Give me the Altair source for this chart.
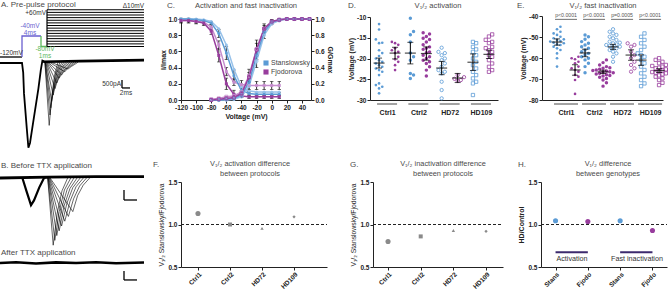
import altair as alt
import numpy as np
import pandas as pd

FONT = "Liberation Sans, DejaVu Sans, Arial, sans-serif"
BLUE = "#5b9bd5"
BLUE_L = "#98c2ea"
PURPLE = "#983d9d"
PURPLE_L = "#c58dcd"
PRE_C = "#6a5fd0"
GAP_C = "#5cb85c"
BAR_H = "#3c2a6e"
GREY = "#8a8a8a"
INK = "#222222"
TXT = "#4a4a4a"

SRC = ["Stanslowsky", "Fjodorova"]
CATS = ["Ctrl1", "Ctrl2", "HD72", "HD109"]

# ---------------- Panel A: traces (ms, nA) ----------------
A_first_t = [0, 5.5, 5.8, 6.0, 6.7, 7.1, 7.5, 8.3, 9.6, 10.2, 10.6, 11.0]
A_first_i = [0, 0, -0.6, -1.9, -4.1, -5.3, -5.0, -3.7, -1.6, -0.45, 0.15, 0.1]
A_base_t = [10.8, 20, 36]
A_base_i = [0.08, 0.12, 0.18]
A_fam_t = [
    [11.2, 12.3, 12.9, 13.6, 14.5], [11.2, 12.5, 13.1, 13.9, 15.0], [11.3, 12.7, 13.4, 14.2, 15.5],
    [11.3, 12.9, 13.7, 14.6, 16.0], [11.4, 13.3, 14.1, 15.0, 16.5], [11.5, 13.75, 14.6, 15.5, 17.0],
    [11.6, 14.2, 15.1, 16.0, 17.5], [11.7, 14.8, 15.7, 16.6, 18.0], [11.8, 15.4, 16.3, 17.2, 18.5],
    [12.0, 16.2, 17.0, 17.9, 19.0], [12.2, 17.0, 17.8, 18.6, 19.5],
]
A_fam_i = [
    [0.1, -3.9, -2.2, -0.8, 0.05], [0.1, -3.25, -1.9, -0.7, 0.05], [0.1, -2.8, -1.6, -0.6, 0.05],
    [0.1, -2.4, -1.35, -0.5, 0.05], [0.1, -2.0, -1.1, -0.45, 0.05], [0.1, -1.6, -0.9, -0.35, 0.05],
    [0.1, -1.25, -0.7, -0.3, 0.05], [0.1, -0.95, -0.55, -0.25, 0.05], [0.1, -0.75, -0.42, -0.2, 0.05],
    [0.1, -0.55, -0.3, -0.15, 0.05], [0.1, -0.38, -0.22, -0.1, 0.05],
]
# protocol (ms, mV)
P_hold_t = [0, 5.5]
P_hold_v = [-120, -120]
P_pre_t = [5.5, 5.5, 10.25]
P_pre_v = [-120, -40, -40]
P_gap_t = [10.25, 10.25, 11.75]
P_gap_v = [-40, -80, -80]
P_steps = [-80, -70, -60, -50, -40, -30, -20, -10, 0, 10, 20, 30, 40, 50, 60]

# ---------------- Panel B ----------------
B_first_t = [0, 5.6, 6.6, 7.75, 8.5, 9.8, 11.0, 11.9]
B_first_i = [0, 0, -0.8, -1.7, -1.4, -0.6, 0.0, 0.05]
B_base_t = [0, 11.9, 24, 36]
B_base_i = [0, 0.05, 0.08, 0.08]
B_fam_t = [
    [11.9, 13.3, 14.3, 15.5, 17.0], [11.9, 13.7, 14.8, 16.1, 17.8], [12.0, 14.2, 15.4, 16.8, 18.6],
    [12.0, 14.8, 16.0, 17.5, 19.4], [12.1, 15.4, 16.7, 18.2, 20.2], [12.2, 16.2, 17.5, 19.0, 21.0],
    [12.3, 17.1, 18.4, 19.9, 21.8], [12.4, 18.2, 19.4, 20.8, 22.6],
]
B_fam_i = [
    [0.05, -4.2, -2.2, -0.8, 0.05], [0.05, -3.9, -2.1, -0.75, 0.05], [0.05, -3.6, -1.9, -0.7, 0.05],
    [0.05, -3.3, -1.75, -0.65, 0.05], [0.05, -3.0, -1.6, -0.6, 0.05], [0.05, -2.7, -1.45, -0.55, 0.05],
    [0.05, -2.4, -1.3, -0.5, 0.05], [0.05, -2.1, -1.1, -0.45, 0.05],
]
B_ttx_t = [0, 4, 9, 14, 19, 24, 29, 36]
B_ttx_i = [0, 0.05, -0.03, 0.04, 0.0, 0.05, -0.02, 0.03]

# ---------------- Panel C ----------------
C_VI = [-120, -110, -100, -90, -80, -70, -60, -50, -40, -30, -20, -10, 0, 10]
C_iS1 = [1.00, 1.00, 0.99, 0.98, 0.95, 0.82, 0.58, 0.30, 0.12, 0.08, 0.07, 0.07, 0.07, 0.07]
C_iS2 = [1.00, 1.00, 1.00, 0.99, 0.97, 0.88, 0.68, 0.38, 0.16, 0.11, 0.10, 0.10, 0.10, 0.10]
C_iF1 = [0.98, 0.98, 0.97, 0.95, 0.85, 0.55, 0.20, 0.07, 0.05, 0.04, 0.04, 0.04, 0.04, 0.04]
C_iF2 = [0.98, 0.98, 0.97, 0.96, 0.90, 0.68, 0.35, 0.22, 0.19, 0.18, 0.18, 0.18, 0.18, 0.18]
C_VA = [-80, -70, -60, -50, -40, -30, -20, -10, 0, 10, 20, 30, 40, 50]
C_aS1 = [0.00, 0.00, 0.01, 0.02, 0.06, 0.22, 0.55, 0.84, 0.96, 0.99, 1.00, 1.00, 1.00, 1.00]
C_aS2 = [0.00, 0.00, 0.00, 0.01, 0.04, 0.17, 0.48, 0.80, 0.94, 0.98, 1.00, 1.00, 1.00, 1.00]
C_aF1 = [0.00, 0.01, 0.02, 0.03, 0.08, 0.28, 0.62, 0.88, 0.97, 0.99, 1.00, 1.00, 1.00, 1.00]
C_aF2 = [0.01, 0.02, 0.04, 0.05, 0.10, 0.30, 0.63, 0.88, 0.96, 0.99, 1.00, 1.00, 1.00, 1.00]
C_eS1 = [0, 0, 0.01, 0.01, 0.02, 0.05, 0.08, 0.07, 0.04, 0.02, 0.02, 0.02, 0.02, 0.02]
C_eF1 = [0.03, 0.03, 0.03, 0.03, 0.04, 0.08, 0.07, 0.05, 0.02, 0.02, 0.02, 0.02, 0.02, 0.02]
C_eF2 = [0.02, 0.02, 0.02, 0.02, 0.03, 0.05, 0.05, 0.04, 0.05, 0.05, 0.05, 0.05, 0.05, 0.05]
C_eaS1 = [0, 0, 0, 0.01, 0.03, 0.12, 0.15, 0.08, 0.03, 0.01, 0, 0, 0, 0]
C_eaF1 = [0, 0, 0.01, 0.01, 0.03, 0.10, 0.12, 0.06, 0.02, 0.01, 0, 0, 0, 0]

# ---------------- Panel D: V1/2 activation (mV) ----------------
D_Ctrl1_S = [-11.7, -13.0, -15.4, -16.2, -16.3, -18.0, -18.7, -19.4, -20.0, -20.4, -20.8, -21.2,
             -21.6, -22.0, -22.4, -22.8, -23.2, -24.0, -26.0, -26.4, -26.8, -27.2, -28.4]
D_Ctrl1_F = [-16.0, -16.3, -16.7, -17.5, -18.0, -18.4, -18.7, -19.6, -20.2, -20.8, -21.6, -22.8]
D_Ctrl2_S = [-10.3, -13.5, -14.3, -16.0, -18.7, -19.6, -20.4, -23.6, -24.0, -24.8]
D_Ctrl2_F = [-13.8, -14.1, -14.7, -15.1, -15.4, -16.0, -16.7, -17.2, -17.5, -17.8, -18.4, -18.6,
             -19.2, -19.6, -20.0, -20.4, -20.8, -21.2, -22.0, -22.8, -24.2]
D_HD72_S = [-17.4, -18.4, -18.7, -19.2, -20.0, -20.4, -21.2, -22.0, -22.8, -23.2, -23.6, -25.6, -27.6, -29.6]
D_HD72_F = [-24.0, -24.5, -24.9, -25.2, -25.4]
D_HD109_S = [-16.0, -16.3, -17.2, -17.8, -18.4, -19.2, -20.0, -20.8, -21.6, -22.4, -23.2, -24.0,
             -24.8, -25.6, -26.0, -28.8]
D_HD109_F = [-14.2, -14.7, -15.5, -16.0, -16.3, -17.2, -17.5, -18.0, -18.4, -19.2, -19.6, -20.4,
             -21.2, -22.0, -22.8, -23.2]
D_mean_S = [-21.1, -18.7, -22.3, -20.9]
D_mean_F = [-18.7, -18.8, -24.7, -19.0]
D_sem_S = [1.2, 2.6, 1.6, 2.0]
D_sem_F = [1.4, 1.6, 1.1, 1.0]

# ---------------- Panel E: V1/2 fast inactivation (mV) ----------------
E_Ctrl1_S = [-45.1, -46.3, -47.5, -48.3, -49.0, -49.9, -50.6, -51.1, -51.4, -51.9, -52.2, -52.7,
             -53.0, -53.5, -53.8, -54.6, -55.4, -56.2, -57.8, -60.1, -64.1]
E_Ctrl1_F = [-59.4, -60.1, -60.6, -61.8, -62.5, -64.1, -64.9, -65.7, -66.5, -68.1, -68.9, -70.5, -77.1]
E_Ctrl2_S = [-49.0, -49.9, -51.1, -52.2, -53.0, -53.8, -54.6, -55.4, -56.2, -57.0, -57.8, -58.6,
             -59.4, -60.1, -60.9, -62.5, -64.1, -67.0]
E_Ctrl2_F = [-60.9, -62.2, -63.3, -64.1, -64.6, -64.9, -65.4, -65.7, -66.0, -66.2, -66.5, -66.7,
             -67.0, -67.3, -67.6, -68.0, -68.3, -68.6, -69.2, -69.8, -70.5, -71.8, -73.4]
E_HD72_S = [-46.3, -47.5, -48.3, -49.0, -49.9, -50.6, -51.4, -52.2, -52.7, -53.0, -53.5, -53.8,
            -54.3, -54.6, -55.1, -55.4, -56.2, -57.0, -57.8, -59.4, -61.8]
E_HD72_F = [-53.0, -53.8, -54.6, -57.0, -58.6, -60.1, -61.8, -63.3, -64.9, -66.5]
E_HD109_S = [-48.3, -49.9, -51.4, -53.0, -54.6, -56.2, -57.8, -58.6, -59.4, -60.9, -62.5, -64.1,
             -65.7, -67.3, -68.9, -70.5, -72.1, -73.4]
E_HD109_F = [-60.1, -60.9, -61.8, -62.5, -63.3, -63.8, -64.1, -64.6, -64.9, -65.4, -65.7, -66.0,
             -66.3, -66.7, -67.0, -67.3, -67.8, -68.3, -68.9, -69.7, -70.5, -71.8, -72.9]
E_mean_S = [-52.4, -57.6, -54.7, -61.0]
E_mean_F = [-65.7, -66.6, -58.6, -66.0]
E_sem_S = [1.5, 1.8, 1.2, 2.5]
E_sem_F = [2.5, 0.8, 2.5, 0.9]
E_pvals = ["p<0.0001", "p<0.0001", "p=0.0005", "p<0.0001"]

# ---------------- Panels F, G, H ----------------
F_vals = [1.13, 1.00, 0.955, 1.09]
G_vals = [0.80, 0.86, 0.93, 0.92]
H_ids = ["Stans_a", "Fjodo_a", "Stans_i", "Fjodo_i"]
H_src = ["Stanslowsky", "Fjodorova", "Stanslowsky", "Fjodorova"]
H_vals = [1.045, 1.035, 1.045, 0.93]


# ================= helpers =================
def q(domain, rng):
    return alt.Scale(domain=domain, range=rng, nice=False, zero=False)


def pt(domain, rng, padding, align=0.5):
    return alt.Scale(type="point", domain=domain, range=rng, padding=padding, align=align)


ONE = pd.DataFrame({"k": [0]})
OFF = q([-40, 40], [-40, 40])
SRC_COL = alt.Scale(domain=SRC, range=[BLUE, PURPLE])
MINUS = "replace(datum.label, '\u2212', '-')"


def txt(s, x, y, size=8.0, color=TXT, align="left", weight="normal"):
    return alt.Chart(ONE).mark_text(
        text=s, align=align, baseline="middle", fontSize=size, color=color,
        fontWeight=weight, font=FONT
    ).encode(x=alt.value(x), y=alt.value(y))


def traces(ts, is_):
    rows = []
    for k, (tt, ii) in enumerate(zip(ts, is_)):
        for t, i in zip(tt, ii):
            rows.append({"id": k, "t": t, "i": i})
    return pd.DataFrame(rows)


def swarm(vals, dv, step):
    order = np.argsort(vals)
    placed = []
    offs = [0.0] * len(vals)
    cands = [0.0]
    for k in range(1, 9):
        cands += [k * step, -k * step]
    for idx in order:
        v = vals[idx]
        chosen = cands[-1]
        for c in cands:
            if all(abs(v - pv) >= dv or abs(c - pc) >= step * 0.99 for pv, pc in placed):
                chosen = c
                break
        offs[idx] = chosen
        placed.append((v, chosen))
    return offs


L = []

# ================= Panel A =================
xA = q([0, 36], [0, 144])
yA = q([-6, 1], [159, 47])
yP = q([-120, 60], [57, 9.75])


def xa(f="t:Q"):
    return alt.X(f, scale=xA, axis=None)


L.append(alt.Chart(pd.DataFrame({"t": A_base_t, "i": A_base_i})).mark_line(
    color="black", strokeWidth=2.6).encode(x=xa(), y=alt.Y("i:Q", scale=yA, axis=None)))
L.append(alt.Chart(traces(A_fam_t, A_fam_i)).mark_line(color="black", strokeWidth=0.6).encode(
    x=xa(), y=alt.Y("i:Q", scale=yA, axis=None), detail="id:N"))
L.append(alt.Chart(pd.DataFrame({"t": A_first_t, "i": A_first_i})).mark_line(
    color="black", strokeWidth=1.8).encode(x=xa(), y=alt.Y("i:Q", scale=yA, axis=None)))
# scale bar (500 pA, 2 ms)
L.append(alt.Chart(ONE).mark_rule(color="black", strokeWidth=1.3).encode(
    x=alt.X(datum=30.5, type="quantitative", scale=xA, axis=None),
    y=alt.Y(datum=-1.06, type="quantitative", scale=yA, axis=None),
    y2=alt.Y2(datum=-1.56)))
L.append(alt.Chart(ONE).mark_rule(color="black", strokeWidth=1.3).encode(
    x=alt.X(datum=30.5, type="quantitative", scale=xA, axis=None),
    x2=alt.X2(datum=32.5),
    y=alt.Y(datum=-1.56, type="quantitative", scale=yA, axis=None)))
L.append(txt("500pA", 121, 84, 6.5, "#333", "right"))
L.append(txt("2ms", 126, 93, 6.5, "#333", "center"))

# protocol
for tt, vv, col in [(P_hold_t, P_hold_v, "black"), (P_pre_t, P_pre_v, PRE_C), (P_gap_t, P_gap_v, GAP_C)]:
    dfp = pd.DataFrame({"t": tt, "v": vv, "k": range(len(tt))})
    L.append(alt.Chart(dfp).mark_line(color=col, strokeWidth=1.3).encode(
        x=xa(), y=alt.Y("v:Q", scale=yP, axis=None), order="k:Q"))
dfs = pd.DataFrame({"v": P_steps, "t0": P_gap_t[-1], "t1": 36})
L.append(alt.Chart(dfs).mark_rule(color="black", strokeWidth=1).encode(
    x=xa("t0:Q"), x2="t1:Q", y=alt.Y("v:Q", scale=yP, axis=None)))
L.append(alt.Chart(ONE).mark_rule(color="black", strokeWidth=1.2).encode(
    x=alt.X(datum=P_gap_t[-1], type="quantitative", scale=xA, axis=None),
    y=alt.Y(datum=P_steps[0], type="quantitative", scale=yP, axis=None),
    y2=alt.Y2(datum=P_steps[-1])))
L.append(txt("A. Pre-pulse protocol", 1, 4.5, 8))
L.append(txt("\u039410mV", 144, 6, 6.5, "#333", "right"))
L.append(txt("+60mV", 46, 12.5, 6.5, "#333", "right"))
L.append(txt("-120mV", 0, 52.5, 6.5, "#333"))
L.append(txt("-40mV", 30, 26, 6.5, PRE_C, "center"))
L.append(txt("4ms", 30, 32.5, 6.5, PRE_C, "center"))
L.append(txt("-80mV", 45, 48.5, 6.5, GAP_C, "center"))
L.append(txt("1ms", 45, 56, 6.5, GAP_C, "center"))

# ================= Panel B =================
yB = q([-5, 1], [258, 162])
yT = q([-1, 1], [279, 247])
L.append(alt.Chart(pd.DataFrame({"t": B_base_t, "i": B_base_i})).mark_line(
    color="black", strokeWidth=2.8).encode(x=xa(), y=alt.Y("i:Q", scale=yB, axis=None)))
L.append(alt.Chart(traces(B_fam_t, B_fam_i)).mark_line(color="black", strokeWidth=0.6).encode(
    x=xa(), y=alt.Y("i:Q", scale=yB, axis=None), detail="id:N"))
L.append(alt.Chart(pd.DataFrame({"t": B_first_t, "i": B_first_i})).mark_line(
    color="black", strokeWidth=2.2).encode(x=xa(), y=alt.Y("i:Q", scale=yB, axis=None)))
L.append(alt.Chart(pd.DataFrame({"t": B_ttx_t, "i": B_ttx_i})).mark_line(
    color="black", strokeWidth=2.6).encode(x=xa(), y=alt.Y("i:Q", scale=yT, axis=None)))
for ysc, top, bot in [(yB, -0.75, -1.375), (yT, -0.5, -1.06)]:
    L.append(alt.Chart(ONE).mark_rule(color="black", strokeWidth=1.3).encode(
        x=alt.X(datum=31, type="quantitative", scale=xA, axis=None),
        y=alt.Y(datum=top, type="quantitative", scale=ysc, axis=None),
        y2=alt.Y2(datum=bot)))
    L.append(alt.Chart(ONE).mark_rule(color="black", strokeWidth=1.3).encode(
        x=alt.X(datum=31, type="quantitative", scale=xA, axis=None),
        x2=alt.X2(datum=34.25),
        y=alt.Y(datum=bot, type="quantitative", scale=ysc, axis=None)))
L.append(txt("B. Before TTX application", 1, 166, 8))
L.append(txt("After TTX application", 1, 253, 8))

# ================= Panel C =================
xC = q([-120, 52], [181, 311])
yC = q([0, 1], [100, 19])
SIDS = ["iS2", "iF2", "iS1", "iF1", "aS2", "aF2", "aS1", "aF1"]
SCOL = alt.Scale(domain=SIDS, range=[BLUE_L, PURPLE_L, BLUE, PURPLE, BLUE_L, PURPLE_L, BLUE, PURPLE])
SSHP = alt.Scale(domain=SIDS, range=["circle", "square", "circle", "square", "circle", "square", "circle", "square"])
rows = []
for sid, V, vals in [("iS2", C_VI, C_iS2), ("iF2", C_VI, C_iF2), ("iS1", C_VI, C_iS1), ("iF1", C_VI, C_iF1),
                     ("aS2", C_VA, C_aS2), ("aF2", C_VA, C_aF2), ("aS1", C_VA, C_aS1), ("aF1", C_VA, C_aF1)]:
    for v, y in zip(V, vals):
        rows.append({"sid": sid, "V": v, "y": y})
dfC = pd.DataFrame(rows)
dfCi = dfC[dfC.sid.str.startswith("i")]
dfCa = dfC[dfC.sid.str.startswith("a")]
erows = []
for V, vals, sem in [(C_VI, C_iS1, C_eS1), (C_VI, C_iF1, C_eF1), (C_VI, C_iF2, C_eF2),
                     (C_VA, C_aS1, C_eaS1), (C_VA, C_aF1, C_eaF1)]:
    for v, y, e in zip(V, vals, sem):
        if e > 0:
            erows.append({"V": v, "lo": y - e, "hi": y + e})
dfCe = pd.DataFrame(erows)

cx_axis = alt.Axis(orient="bottom", offset=-190, values=[-120, -100, -80, -60, -40, -20, 0, 20, 40],
                   title="Voltage (mV)", labelExpr=MINUS, titlePadding=2, labelPadding=1)
cy_left = alt.Axis(orient="left", offset=-181, values=[0, 0.2, 0.4, 0.6, 0.8, 1.0], format=".1f",
                   title="I/Imax", titlePadding=1, labelPadding=1)
cy_right = alt.Axis(orient="right", offset=-357, values=[0, 0.2, 0.4, 0.6, 0.8, 1.0], format=".1f",
                    title="G/Gmax", titlePadding=2, labelPadding=1)

L.append(alt.Chart(dfCe).mark_rule(color="black", strokeWidth=0.8).encode(
    x=alt.X("V:Q", scale=xC, axis=None), y=alt.Y("lo:Q", scale=yC, axis=None), y2="hi:Q"))
for f in ["lo", "hi"]:
    L.append(alt.Chart(dfCe).mark_tick(orient="horizontal", size=3.5, thickness=0.8, color="black").encode(
        x=alt.X("V:Q", scale=xC, axis=None), y=alt.Y(f + ":Q", scale=yC, axis=None)))
L.append(alt.Chart(dfCi).mark_line(strokeWidth=1.5).encode(
    x=alt.X("V:Q", scale=xC, axis=cx_axis), y=alt.Y("y:Q", scale=yC, axis=cy_left),
    color=alt.Color("sid:N", scale=SCOL, legend=None)))
L.append(alt.Chart(dfCa).mark_line(strokeWidth=1.5).encode(
    x=alt.X("V:Q", scale=xC, axis=None), y=alt.Y("y:Q", scale=yC, axis=cy_right),
    color=alt.Color("sid:N", scale=SCOL, legend=None)))
L.append(alt.Chart(dfCi).mark_point(filled=True, size=9, opacity=1).encode(
    x=alt.X("V:Q", scale=xC, axis=None), y=alt.Y("y:Q", scale=yC, axis=None),
    color=alt.Color("sid:N", scale=SCOL, legend=None), shape=alt.Shape("sid:N", scale=SSHP, legend=None)))
L.append(alt.Chart(dfCa).mark_point(filled=False, size=9, strokeWidth=0.9, opacity=1).encode(
    x=alt.X("V:Q", scale=xC, axis=None), y=alt.Y("y:Q", scale=yC, axis=None),
    color=alt.Color("sid:N", scale=SCOL, legend=None), shape=alt.Shape("sid:N", scale=SSHP, legend=None)))
# legend
for i, (name, col) in enumerate(zip(SRC, [BLUE, PURPLE])):
    L.append(alt.Chart(ONE).mark_square(size=26, color=col, opacity=1).encode(
        x=alt.value(266), y=alt.value(63 + 9 * i)))
    L.append(txt(name, 271, 63 + 9 * i, 7, "#444"))
L.append(txt("C.", 167, 5.5, 8))
L.append(txt("Activation and fast inactivation", 246, 5.5, 7.6, TXT, "center"))


# ================= Panels D & E =================
def panel_DE(arrs, means_S, means_F, sems_S, sems_F, xs, ys, side, dv, step, xaxis, yaxis, bracket_w):
    rows = []
    for cat in CATS:
        for s_i, src in enumerate(SRC):
            vals = arrs[(cat, src)]
            offs = swarm(vals, dv, step)
            sgn = -side if s_i == 0 else side
            for v, o in zip(vals, offs):
                rows.append({"cat": cat, "src": src, "val": v, "off": sgn + o})
    df = pd.DataFrame(rows)
    out = []
    specs = [("Ctrl1", True, "circle", 7), ("Ctrl2", True, "circle", 12),
             ("HD72", False, "circle", 11), ("HD109", False, "square", 11)]
    for cat, filled, shape, size in specs:
        sub = df[df.cat == cat]
        if filled:
            mk = alt.Chart(sub).mark_point(filled=True, shape=shape, size=size, opacity=1)
        else:
            mk = alt.Chart(sub).mark_point(filled=False, shape=shape, size=size, strokeWidth=0.8, opacity=1)
        out.append(mk.encode(
            x=alt.X("cat:N", scale=xs, axis=None),
            xOffset=alt.XOffset("off:Q", scale=OFF),
            y=alt.Y("val:Q", scale=ys, axis=None),
            color=alt.Color("src:N", scale=SRC_COL, legend=None)))
    mrows = []
    for j, cat in enumerate(CATS):
        for s_i, (m, e) in enumerate([(means_S[j], sems_S[j]), (means_F[j], sems_F[j])]):
            mrows.append({"cat": cat, "off": -side if s_i == 0 else side, "mean": m, "lo": m - e, "hi": m + e})
    dm = pd.DataFrame(mrows)
    out.append(alt.Chart(dm).mark_rule(color="black", strokeWidth=1).encode(
        x=alt.X("cat:N", scale=xs, axis=None), xOffset=alt.XOffset("off:Q", scale=OFF),
        y=alt.Y("lo:Q", scale=ys, axis=None), y2="hi:Q"))
    for f, sz in [("lo", 6), ("hi", 6)]:
        out.append(alt.Chart(dm).mark_tick(orient="horizontal", size=sz, thickness=1, color="black").encode(
            x=alt.X("cat:N", scale=xs, axis=None), xOffset=alt.XOffset("off:Q", scale=OFF),
            y=alt.Y(f + ":Q", scale=ys, axis=None)))
    out.append(alt.Chart(dm).mark_tick(orient="horizontal", size=11, thickness=1.2, color="black").encode(
        x=alt.X("cat:N", scale=xs, axis=None), xOffset=alt.XOffset("off:Q", scale=OFF),
        y=alt.Y("mean:Q", scale=ys, axis=yaxis)))
    out.append(alt.Chart(pd.DataFrame({"cat": CATS})).mark_tick(
        orient="horizontal", size=bracket_w, thickness=1.2, color=INK).encode(
        x=alt.X("cat:N", scale=xs, axis=xaxis), y=alt.value(104)))
    return out


xD = pt(CATS, [370, 498], 0.545, 0.5)
yD = q([-30, -10], [100, 17])
D_arrs = {("Ctrl1", "Stanslowsky"): D_Ctrl1_S, ("Ctrl1", "Fjodorova"): D_Ctrl1_F,
          ("Ctrl2", "Stanslowsky"): D_Ctrl2_S, ("Ctrl2", "Fjodorova"): D_Ctrl2_F,
          ("HD72", "Stanslowsky"): D_HD72_S, ("HD72", "Fjodorova"): D_HD72_F,
          ("HD109", "Stanslowsky"): D_HD109_S, ("HD109", "Fjodorova"): D_HD109_F}
cat_axis = dict(orient="bottom", offset=-190, ticks=False, labelPadding=8, labelAngle=0,
                title=None, labelFontSize=7)
L += panel_DE(D_arrs, D_mean_S, D_mean_F, D_sem_S, D_sem_F, xD, yD, 8, 0.95, 3.2,
              alt.Axis(**cat_axis),
              alt.Axis(orient="left", offset=-370, values=[-30, -25, -20, -15, -10],
                       title="Voltage (mV)", labelExpr=MINUS, titlePadding=2, labelPadding=1),
              20)
L.append(txt("D.", 348, 5.5, 8))
L.append(txt("V\u2081/\u2082 activation", 438, 5.5, 7.6, TXT, "center"))

xE = pt(CATS, [542, 663], 0.66, 0.65)
yE = q([-80, -40], [100, 16])
E_arrs = {("Ctrl1", "Stanslowsky"): E_Ctrl1_S, ("Ctrl1", "Fjodorova"): E_Ctrl1_F,
          ("Ctrl2", "Stanslowsky"): E_Ctrl2_S, ("Ctrl2", "Fjodorova"): E_Ctrl2_F,
          ("HD72", "Stanslowsky"): E_HD72_S, ("HD72", "Fjodorova"): E_HD72_F,
          ("HD109", "Stanslowsky"): E_HD109_S, ("HD109", "Fjodorova"): E_HD109_F}
L += panel_DE(E_arrs, E_mean_S, E_mean_F, E_sem_S, E_sem_F, xE, yE, 9, 1.7, 3.4,
              alt.Axis(**cat_axis),
              alt.Axis(orient="left", offset=-542, values=[-80, -70, -60, -50, -40],
                       title="Voltage (mV)", labelExpr=MINUS, titlePadding=2, labelPadding=1),
              24)
dfp = pd.DataFrame({"cat": CATS, "p": E_pvals})
L.append(alt.Chart(dfp).mark_text(fontSize=5.2, color="#555", font=FONT, baseline="middle").encode(
    x=alt.X("cat:N", scale=xE, axis=None),
    y=alt.Y(datum=-39.3, type="quantitative", scale=yE, axis=None), text="p:N"))
L.append(alt.Chart(dfp).mark_tick(orient="horizontal", size=22, thickness=1, color="#333").encode(
    x=alt.X("cat:N", scale=xE, axis=None),
    y=alt.Y(datum=-41.6, type="quantitative", scale=yE, axis=None)))
L.append(txt("E.", 517, 5.5, 8))
L.append(txt("V\u2081/\u2082 fast inactivation", 603, 5.5, 7.6, TXT, "center"))

# ================= Panels F, G =================
yR = q([0.5, 1.5], [267, 182])
SHAPES = ["circle", "square", "triangle-up", "diamond"]
SIZES = [26, 16, 11, 11]


def ratio_panel(vals, xs, x0, x1):
    out = []
    out.append(alt.Chart(ONE).mark_rule(color=INK, strokeWidth=1.2, strokeDash=[3, 2]).encode(
        x=alt.X(datum=0, type="quantitative", scale=q([0, 1], [x0, x1]), axis=None),
        x2=alt.X2(datum=1),
        y=alt.Y(datum=1.0, type="quantitative", scale=yR, axis=None)))
    df = pd.DataFrame({"cat": CATS, "val": vals})
    for j, (cat, shp, sz) in enumerate(zip(CATS, SHAPES, SIZES)):
        sub = df[df.cat == cat]
        xax = alt.Axis(orient="bottom", offset=-23, labelAngle=315, title=None, labelPadding=1) if j == 0 else None
        yax = alt.Axis(orient="left", offset=-x0, values=[0.5, 1.0, 1.5], format=".1f",
                       title="V\u2081/\u2082 Stanslowsky/Fjodorova", titleFontWeight="normal",
                       titleFontSize=6.8, titlePadding=3, labelPadding=1) if j == 0 else None
        out.append(alt.Chart(sub).mark_point(filled=True, shape=shp, size=sz, color=GREY, opacity=1).encode(
            x=alt.X("cat:N", scale=xs, axis=xax), y=alt.Y("val:Q", scale=yR, axis=yax)))
    return out


L += ratio_panel(F_vals, pt(CATS, [181, 327], 0.78, 0.34), 181, 327)
L.append(txt("F.", 153, 165, 8))
L.append(txt("V\u2081/\u2082 activation difference", 250, 164, 7.4, TXT, "center"))
L.append(txt("between protocols", 250, 174, 7.4, TXT, "center"))

L += ratio_panel(G_vals, pt(CATS, [373, 503], 0.49, 0.47), 373, 503)
L.append(txt("G.", 350, 165, 8))
L.append(txt("V\u2081/\u2082 inactivation difference", 443, 164, 7.4, TXT, "center"))
L.append(txt("between protocols", 443, 174, 7.4, TXT, "center"))

# ================= Panel H =================
xH = pt(H_ids, [541, 667], 0.45, 0.5)
L.append(alt.Chart(ONE).mark_rule(color=INK, strokeWidth=1.2, strokeDash=[3, 2]).encode(
    x=alt.X(datum=0, type="quantitative", scale=q([0, 1], [541, 667]), axis=None),
    x2=alt.X2(datum=1),
    y=alt.Y(datum=1.0, type="quantitative", scale=yR, axis=None)))
dfH = pd.DataFrame({"id": H_ids, "src": H_src, "val": H_vals})
L.append(alt.Chart(dfH).mark_circle(size=26, opacity=1).encode(
    x=alt.X("id:N", scale=xH, axis=alt.Axis(orient="bottom", offset=-23, labelAngle=315, title=None,
                                            labelPadding=1, labelExpr="split(datum.label, '_')[0]")),
    y=alt.Y("val:Q", scale=yR, axis=alt.Axis(orient="left", offset=-541, values=[0.5, 1.0, 1.5],
                                             format=".1f", title="HD/Control", titlePadding=3,
                                             labelPadding=1)),
    color=alt.Color("src:N", scale=SRC_COL, legend=None)))
for a, b in [("Stans_a", "Fjodo_a"), ("Stans_i", "Fjodo_i")]:
    L.append(alt.Chart(ONE).mark_rule(color=BAR_H, strokeWidth=2).encode(
        x=alt.X(datum=a, type="nominal", scale=xH, axis=None),
        x2=alt.X2(datum=b),
        y=alt.Y(datum=0.675, type="quantitative", scale=yR, axis=None)))
L.append(txt("Activation", 572, 259, 7.2, "#333", "center"))
L.append(txt("Fast inactivation", 637, 259, 7.2, "#333", "center"))
L.append(txt("H.", 518, 165, 8))
L.append(txt("V\u2081/\u2082 difference", 608, 164, 7.4, TXT, "center"))
L.append(txt("between genotypes", 608, 174, 7.4, TXT, "center"))

chart = alt.layer(*L).resolve_scale(
    x="independent", y="independent", color="independent", shape="independent",
    size="independent", xOffset="independent"
).resolve_axis(x="independent", y="independent").properties(
    width=668, height=290, padding=0, background="white",
    autosize=alt.AutoSizeParams(type="none")
).configure_view(stroke=None).configure_axis(
    labelFont=FONT, titleFont=FONT, labelFontSize=6.5, labelFontWeight="bold", labelColor=INK,
    titleColor=INK, titleFontSize=7, titleFontWeight="bold", domainColor=INK, tickColor=INK,
    grid=False, labelFlush=False, labelOverlap=False, tickSize=3, domainWidth=1, tickWidth=1
)

chart.save("out.html", embed_options={"renderer": "svg", "actions": False})
